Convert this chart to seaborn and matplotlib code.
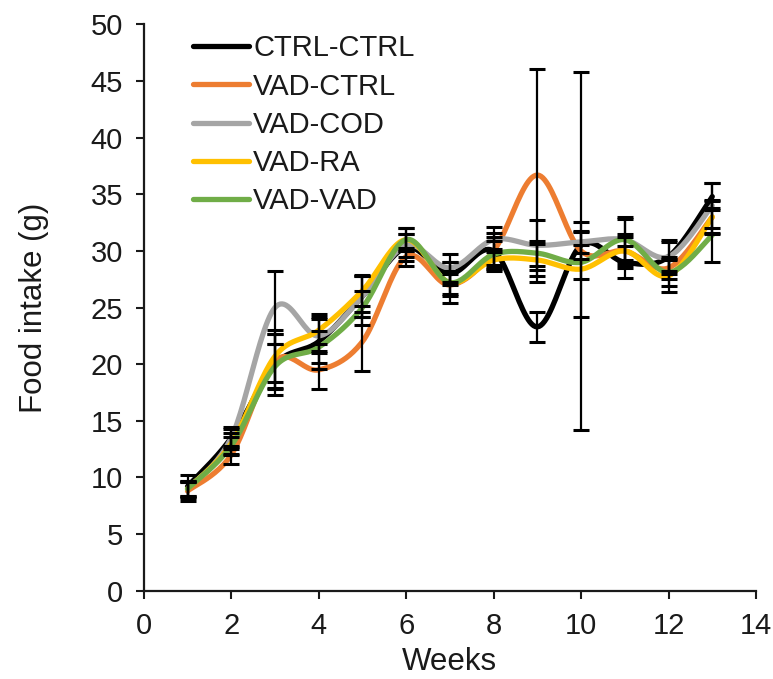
import numpy as np
import pandas as pd
import matplotlib
matplotlib.use("Agg")
import matplotlib.pyplot as plt
import seaborn as sns

weeks = list(range(1, 14))
groups = ["CTRL-CTRL", "VAD-CTRL", "VAD-COD", "VAD-RA", "VAD-VAD"]
colors = ["#000000", "#ED7D31", "#A5A5A5", "#FFC000", "#70AD47"]

ctrl_ctrl = [9.2, 13.5, 20.0, 22.0, 26.0, 30.3, 28.0, 30.0, 23.3, 30.5, 29.0, 29.5, 34.8]
vad_ctrl = [8.8, 12.0, 20.3, 19.5, 22.0, 29.5, 27.0, 30.0, 36.7, 30.0, 30.0, 28.5, 33.0]
vad_cod = [9.0, 13.5, 25.0, 22.5, 26.0, 30.5, 28.5, 31.0, 30.5, 30.8, 31.0, 29.5, 34.0]
vad_ra = [9.0, 13.0, 20.7, 23.0, 26.5, 31.0, 27.2, 29.2, 29.2, 28.4, 30.0, 27.8, 33.0]
vad_vad = [9.0, 12.8, 19.8, 21.5, 25.0, 31.0, 27.2, 29.7, 29.8, 29.0, 31.0, 28.1, 31.4]

ctrl_ctrl_err = [1.0, 1.0, 2.7, 2.4, 1.8, 1.2, 1.0, 1.6, 1.3, 1.2, 1.4, 1.5, 1.2]
vad_ctrl_err = [0.9, 0.8, 2.4, 1.7, 2.6, 0.8, 1.0, 1.2, 9.4, 15.8, 1.5, 1.0, 1.5]
vad_cod_err = [0.6, 0.8, 3.2, 1.5, 1.8, 1.0, 1.2, 1.1, 2.2, 1.0, 1.8, 1.3, 2.0]
vad_ra_err = [0.7, 0.9, 2.3, 1.2, 1.4, 1.0, 1.0, 1.0, 1.4, 4.2, 1.2, 1.4, 1.4]
vad_vad_err = [0.6, 0.8, 2.0, 1.4, 1.5, 1.0, 1.8, 1.2, 1.1, 1.5, 2.0, 1.2, 2.4]

values = [ctrl_ctrl, vad_ctrl, vad_cod, vad_ra, vad_vad]
errors = [ctrl_ctrl_err, vad_ctrl_err, vad_cod_err, vad_ra_err, vad_vad_err]


def excel_smooth(x, y, n=25):
    # bezier smoothing like excel "smoothed line"
    x = np.asarray(x, float)
    y = np.asarray(y, float)
    px, py = [], []
    t = np.linspace(0, 1, n)
    for i in range(len(x) - 1):
        i0 = max(i - 1, 0)
        i3 = min(i + 2, len(x) - 1)
        c1x = x[i] + (x[i + 1] - x[i0]) / 6
        c1y = y[i] + (y[i + 1] - y[i0]) / 6
        c2x = x[i + 1] - (x[i3] - x[i]) / 6
        c2y = y[i + 1] - (y[i3] - y[i]) / 6
        bx = (1 - t)**3 * x[i] + 3 * (1 - t)**2 * t * c1x + 3 * (1 - t) * t**2 * c2x + t**3 * x[i + 1]
        by = (1 - t)**3 * y[i] + 3 * (1 - t)**2 * t * c1y + 3 * (1 - t) * t**2 * c2y + t**3 * y[i + 1]
        if i > 0:
            bx, by = bx[1:], by[1:]
        px.extend(bx)
        py.extend(by)
    return px, py


rows = []
for g, v in zip(groups, values):
    sx, sy = excel_smooth(weeks, v)
    rows.append(pd.DataFrame({"week": sx, "intake": sy, "group": g}))
curves = pd.concat(rows, ignore_index=True)

sns.set_style("ticks")
plt.rcParams["font.family"] = ["Liberation Sans", "DejaVu Sans"]
txt = "#1a1a1a"

fig = plt.figure(figsize=(7.73, 6.79), dpi=100)
ax = fig.add_axes([0.186, 0.130, 0.792, 0.834])

sns.lineplot(data=curves, x="week", y="intake", hue="group", hue_order=groups,
             palette=colors, sort=False, estimator=None, linewidth=3.8, ax=ax)

for v, e in zip(values, errors):
    ax.errorbar(weeks, v, yerr=e, fmt="none", ecolor="black", elinewidth=1.6,
                capsize=6, capthick=2.2, zorder=5)

ax.set_xlim(0, 14)
ax.set_ylim(0, 50)
ax.set_xticks(range(0, 15, 2))
ax.set_yticks(range(0, 51, 5))
ax.set_xlabel("Weeks", fontsize=22.5, color=txt, labelpad=5)
ax.set_ylabel("Food intake (g)", fontsize=22.5, color=txt, labelpad=30)
ax.tick_params(labelsize=21, length=6, width=1.5, direction="out", pad=9,
               colors=txt)
for s in ["left", "bottom"]:
    ax.spines[s].set_linewidth(1.6)
    ax.spines[s].set_color(txt)
sns.despine(ax=ax)

handles, labels = ax.get_legend_handles_labels()
ax.legend(handles, labels, loc="upper left", bbox_to_anchor=(0.062, 1.003),
          frameon=False, fontsize=21, handlelength=1.9, handletextpad=0.15,
          labelspacing=0.35, borderaxespad=0, labelcolor=txt)

fig.savefig("out.png", dpi=100)
